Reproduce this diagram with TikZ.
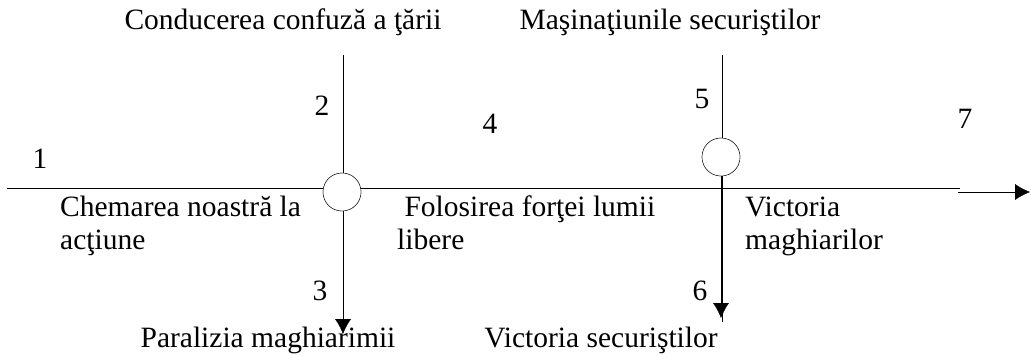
\documentclass[tikz,border=0pt]{standalone}
\usepackage{fontspec}
\setmainfont{Liberation Serif}
\usetikzlibrary{arrows.meta, positioning}
\tikzset{
    line width=2.4pt,
    arr/.style = {-{Latex[length=15pt, width=16pt]}}, % the black arrow heads
    junc/.style ={circle, draw, fill=white, minimum size=38pt, inner sep=0pt}, % the small circles where two lines cross
    lbl/.style = {inner sep=0pt, font=\fontsize{29.5}{32.5}\selectfont},
    num/.style = {inner sep=0pt, anchor=base, font=\fontsize{29.5}{32.5}\selectfont}
}

\begin{document}
\begin{tikzpicture}[x=1pt, y=-1pt]
    \useasboundingbox (0,0) rectangle (1031,356);
    % ends of the lines
    \coordinate (west) at (7,188);
    \coordinate (east) at (960,188);
    \coordinate (arrstart) at (958,192);
    \coordinate (arrend) at (1030,192);
    \coordinate (top1) at (343,55);
    \coordinate (bot1) at (343,334);
    \coordinate (top2) at (722,55);
    \coordinate (bot2) at (722,322);
    \coordinate (tip6) at (721,318);
    \node[junc] (c1) at (342,192) {};
    \node[junc] (c2) at (721,157) {};
    \draw (west) -- (east);
    \draw[arr] (arrstart) -- (arrend);
    \draw[arr] (top1) -- (bot1);
    \draw (top2) -- (bot2);
    \draw[arr] (c2) -- (tip6);
    \node[junc] at (c1) {}; % circles again, over the lines
    \node[junc] at (c2) {};
    % texts
    \node[lbl, anchor=base] (conf) at (283,29) {Conducerea confuză a ţării};
    \node[lbl, anchor=base] (masin) at (670,29) {Maşinaţiunile securiştilor};
    \node[lbl, anchor=base west, align=left] (chem) at (60,249) {Chemarea noastră la\\acţiune};
    \node[lbl, anchor=base west, align=left] (folos) at (397,249) {\ Folosirea forţei lumii\\libere};
    \node[lbl, anchor=base west, align=left] (vict) at (745,249) {Victoria\\maghiarilor};
    \node[lbl, anchor=base] (paral) at (268,347) {Paralizia maghiarimii};
    \node[lbl, anchor=base] (victsec) at (601,347) {Victoria securiştilor};
    % numbers
    \node[num] (n1) at (40,168) {1};
    \node[num] (n2) at (322,115) {2};
    \node[num] (n3) at (320,300) {3};
    \node[num] (n4) at (490,133) {4};
    \node[num] (n5) at (702,108) {5};
    \node[num] (n6) at (700,300) {6};
    \node[num] (n7) at (965,128) {7};
\end{tikzpicture}
\end{document}
